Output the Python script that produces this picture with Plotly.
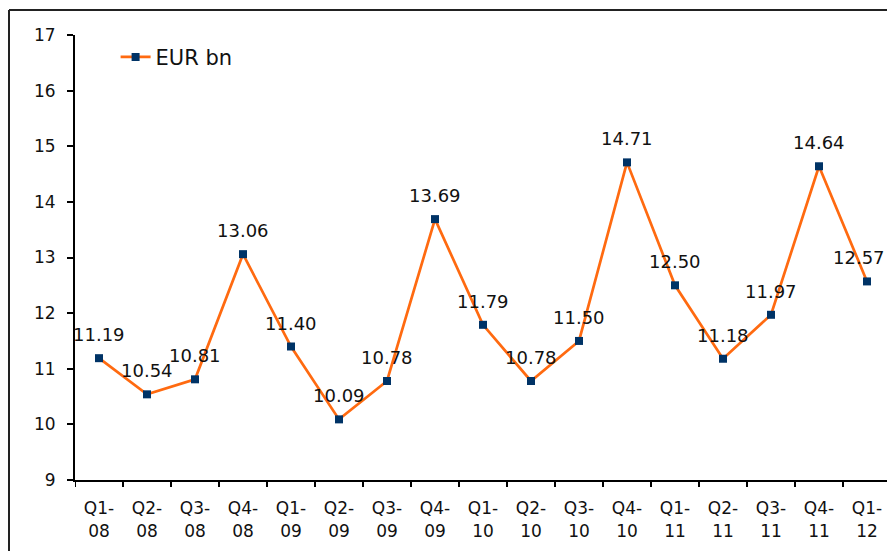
import plotly.graph_objects as go

categories = ["Q1-<br>08", "Q2-<br>08", "Q3-<br>08", "Q4-<br>08",
              "Q1-<br>09", "Q2-<br>09", "Q3-<br>09", "Q4-<br>09",
              "Q1-<br>10", "Q2-<br>10", "Q3-<br>10", "Q4-<br>10",
              "Q1-<br>11", "Q2-<br>11", "Q3-<br>11", "Q4-<br>11",
              "Q1-<br>12"]
values = [11.19, 10.54, 10.81, 13.06, 11.40, 10.09, 10.78, 13.69,
          11.79, 10.78, 11.50, 14.71, 12.50, 11.18, 11.97, 14.64, 12.57]
labels = [f"{v:.2f}" for v in values]
y_ticks = [9, 10, 11, 12, 13, 14, 15, 16, 17]

W, H = 887, 551
L, R, T, B = 75, 0, 35, 71
pw = W - L - R
ph = H - T - B
FONT = "DejaVu Sans"

xs = list(range(len(categories)))

fig = go.Figure()
fig.add_trace(go.Scatter(
    x=xs, y=values, mode="lines+markers",
    name="EUR bn",
    line=dict(color="#FF6A10", width=2.7),
    marker=dict(symbol="square", size=8, color="#003366"),
    cliponaxis=False,
))

for i, (xv, yv, t) in enumerate(zip(xs, values, labels)):
    fig.add_annotation(
        x=xv, y=yv, xref="x", yref="y", text=t, showarrow=False,
        xanchor="center", yanchor="bottom", yshift=11,
        xshift=(-8 if i == len(xs) - 1 else 0),
        font=dict(family=FONT, size=18, color="#111111"),
    )

fig.update_layout(
    width=W, height=H,
    margin=dict(l=L, r=R, t=T, b=B, pad=0),
    paper_bgcolor="white", plot_bgcolor="white",
    font=dict(family=FONT, size=17, color="#111111"),
    showlegend=True,
    legend=dict(x=0.05, y=0.95, xanchor="left", yanchor="middle",
                bgcolor="rgba(0,0,0,0)", font=dict(size=21)),
    xaxis=dict(
        range=[-0.5, -0.5 + pw / 48.0],
        tickmode="array",
        tickvals=xs,
        ticktext=categories,
        showgrid=False, zeroline=False,
        showline=True, linecolor="black", linewidth=2,
        ticks="", tickfont=dict(size=17),
        ticklabelstandoff=12,
    ),
    yaxis=dict(
        range=[9, 17], tickvals=y_ticks,
        showgrid=False, zeroline=False,
        showline=True, linecolor="black", linewidth=2,
        ticks="outside", ticklen=6, tickwidth=2, tickcolor="black",
        tickfont=dict(size=17), ticklabelstandoff=8,
    ),
)

# category boundary ticks on x axis
for i in range(len(categories) + 1):
    xb = i - 0.5
    fig.add_shape(type="line", xref="x", yref="paper",
                  x0=xb, x1=xb, y0=0, y1=-7.0 / ph,
                  line=dict(color="black", width=2))

# outer chart frame (left and top edges visible)
fx = (9 - L) / pw
fy = 1 + (T - 10) / ph
fig.add_shape(type="line", xref="paper", yref="paper",
              x0=fx, x1=fx, y0=-0.3, y1=fy,
              line=dict(color="#222222", width=2))
fig.add_shape(type="line", xref="paper", yref="paper",
              x0=fx, x1=1.2, y0=fy, y1=fy,
              line=dict(color="#222222", width=2))

fig.write_html("out.html",
               config={"displayModeBar": False},
               post_script="document.body.style.margin='0';"
                           "document.body.style.overflow='hidden';"
                           "document.documentElement.style.overflow='hidden';")
